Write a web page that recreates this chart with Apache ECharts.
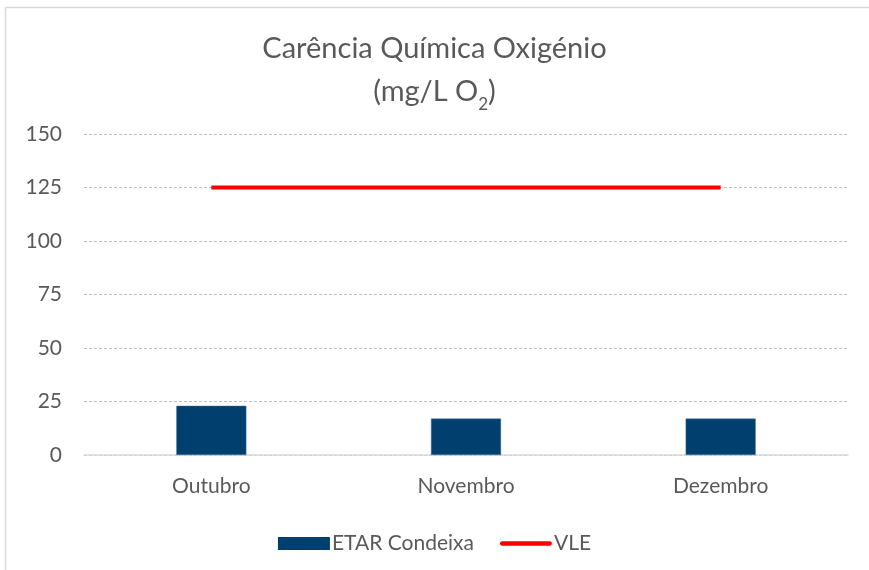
<!DOCTYPE html>
<html><head><meta charset="utf-8">
<script src="https://cdn.jsdelivr.net/npm/echarts@6/dist/echarts.min.js"></script>
<style>html,body{margin:0;padding:0;background:#fff;overflow:hidden}#c{width:869px;height:570px}</style>
</head><body><div id="c"></div>
<script>
const categories = ['Outubro', 'Novembro', 'Dezembro'];
const etarValues = [23, 17, 17];
const vleValues = [125, 125, 125];
const yTicks = {min: 0, max: 150, interval: 25};

const chart = echarts.init(document.getElementById('c'));
const txt = '#595959';
const font = 'Lato';
chart.setOption({
  animation: false,
  backgroundColor: '#fff',
  graphic: [
    {type: 'line', shape: {x1: 5.5, y1: 7.5, x2: 869, y2: 7.5}, style: {stroke: '#d9d9d9', lineWidth: 1.5}, silent: true},
    {type: 'line', shape: {x1: 5.5, y1: 7.5, x2: 5.5, y2: 570}, style: {stroke: '#d9d9d9', lineWidth: 1.5}, silent: true}
  ],
  title: {
    text: '{a|Carência Química Oxigénio}\n{a|(mg/L O}{s|2}{a|)}',
    left: 'center', top: 22,
    textStyle: {
      fontWeight: 'normal',
      rich: {
        a: {fontFamily: font, fontSize: 29, fontWeight: 'normal', color: txt, lineHeight: 43},
        s: {fontFamily: font, fontSize: 17, fontWeight: 'normal', color: txt, verticalAlign: 'bottom', padding: [20, 0, 0, 0], lineHeight: 43}
      }
    }
  },
  legend: {
    top: 528, left: 'center', itemGap: 26,
    textStyle: {fontFamily: font, fontSize: 21, color: txt, padding: [0,0,0,-3]},
    data: [
      {name: 'ETAR Condeixa', icon: 'rect', itemStyle: {borderWidth: 0}},
      {name: 'VLE', icon: 'path://M2.5,0 L53.5,0 A2.5,2.5 0 0 1 53.5,5 L2.5,5 A2.5,2.5 0 0 1 2.5,0 Z'}
    ],
    itemWidth: 52, itemHeight: 13
  },
  grid: {left: 84, right: 21, top: 134, bottom: 115, containLabel: false},
  xAxis: {
    type: 'category', data: categories, boundaryGap: true,
    axisLine: {lineStyle: {color: '#d9d9d9', width: 1.5}},
    axisTick: {show: false},
    axisLabel: {fontFamily: font, fontSize: 21, color: txt, margin: 21}
  },
  yAxis: {
    type: 'value', min: yTicks.min, max: yTicks.max, interval: yTicks.interval,
    axisLine: {show: false}, axisTick: {show: false},
    axisLabel: {fontFamily: font, fontSize: 21, color: txt, margin: 22},
    splitLine: {lineStyle: {color: '#bfbfbf', type: [3, 2], width: 1}}
  },
  series: [
    {name: 'ETAR Condeixa', type: 'bar', data: etarValues, barWidth: '27.5%',
     itemStyle: {color: '#003f6e', borderColor: '#4a7198', borderWidth: 0.5}},
    {name: 'VLE', type: 'line', data: vleValues, symbol: 'none',
     lineStyle: {color: '#ff0000', width: 4}, itemStyle: {color: '#ff0000'}}
  ]
});
</script></body></html>
